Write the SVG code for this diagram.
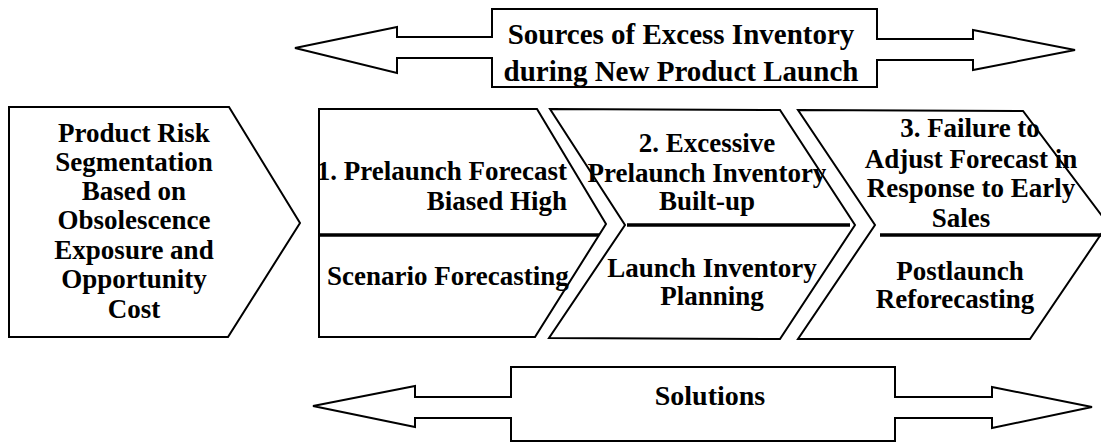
<svg xmlns="http://www.w3.org/2000/svg" width="1101" height="444" viewBox="0 0 1101 444">
<style>
.shape{fill:#fff;stroke:#000;stroke-width:2;stroke-linejoin:miter}
.div{stroke:#000;stroke-width:3.5;fill:none}
.t{font-family:"Liberation Serif","Times New Roman",serif;font-weight:bold;font-size:27px;fill:#000}
.h{font-size:29px}
.m{text-anchor:middle}
.e{text-anchor:end}
</style>
<rect width="1101" height="444" fill="#fff"/>
<g id="banner-sources">
<polygon class="shape" points="492,9 877,9 877,39 973,39 973,30 1075,50 973,70 973,60 877,60 877,87 492,87 492,58 397,58 397,73 295,48 397,27 397,37 492,37"/>
<text class="t h m" x="681" y="44">Sources of Excess Inventory</text>
<text class="t h m" x="681" y="81">during New Product Launch</text>
</g>
<g id="node-segmentation">
<polygon class="shape" points="9,107 229,107 300,223 228,337 9,337"/>
<text class="t m" x="134" y="142">Product Risk</text>
<text class="t m" x="134" y="171">Segmentation</text>
<text class="t m" x="134" y="200">Based on</text>
<text class="t m" x="134" y="229">Obsolescence</text>
<text class="t m" x="134" y="259">Exposure and</text>
<text class="t m" x="134" y="288">Opportunity</text>
<text class="t m" x="134" y="318">Cost</text>
</g>
<g id="node-stage1">
<polygon class="shape" points="319,109 537,109 606,224 535,337 319,337"/>
<line class="div" x1="319" y1="235" x2="599" y2="235"/>
<text class="t e" x="567" y="180">1. Prelaunch Forecast</text>
<text class="t e" x="567" y="210">Biased High</text>
<text class="t" x="327" y="285">Scenario Forecasting</text>
</g>
<g id="node-stage2">
<polygon class="shape" points="550,109 780,110 855,225 780,339 549,338 625,225"/>
<line class="div" x1="627" y1="225" x2="850" y2="225"/>
<text class="t m" x="707" y="152">2. Excessive</text>
<text class="t m" x="707" y="182">Prelaunch Inventory</text>
<text class="t m" x="707" y="210">Built-up</text>
<text class="t m" x="712" y="277">Launch Inventory</text>
<text class="t m" x="712" y="305">Planning</text>
</g>
<g id="node-stage3">
<polygon class="shape" points="798,110 1023,111 1108,224 1030,339 798,339 875,225"/>
<line class="div" x1="880" y1="235" x2="1101" y2="235"/>
<text class="t m" x="970" y="137">3. Failure to</text>
<text class="t m" x="971" y="168">Adjust Forecast in</text>
<text class="t m" x="971" y="197">Response to Early</text>
<text class="t m" x="961" y="227">Sales</text>
<text class="t m" x="960" y="280">Postlaunch</text>
<text class="t m" x="955" y="308">Reforecasting</text>
</g>
<g id="banner-solutions">
<polygon class="shape" points="511,367 895,367 895,397 992,397 992,387 1092,407 992,428 992,418 895,418 895,441 511,441 511,418 415,418 415,427 313,406 415,386 415,397 511,397"/>
<text class="t m" x="710" y="405" style="font-size:28px">Solutions</text>
</g>
<g id="connectors"/>
</svg>
